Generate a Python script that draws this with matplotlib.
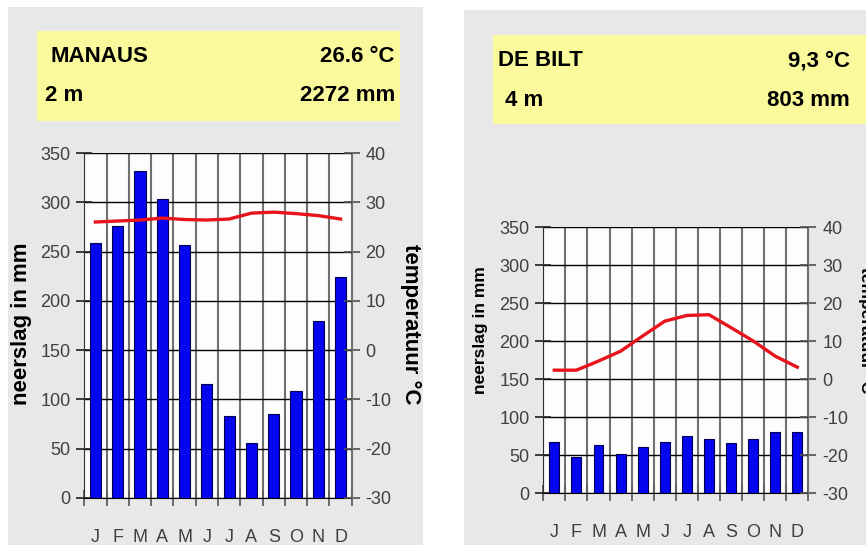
import matplotlib.pyplot as plt
from matplotlib.patches import Rectangle

# climate data
months = ["J", "F", "M", "A", "M", "J", "J", "A", "S", "O", "N", "D"]

manaus_rain = [259, 276, 332, 303, 257, 116, 83, 56, 85, 109, 180, 224]
manaus_temp = [26.0, 26.2, 26.4, 26.8, 26.5, 26.4, 26.6, 27.8, 28.0, 27.7, 27.3, 26.6]
manaus_info = ["MANAUS", "26.6 °C", "2 m", "2272 mm"]

debilt_rain = [67, 48, 64, 52, 61, 68, 76, 71, 66, 71, 81, 81]
debilt_temp = [2.4, 2.4, 4.8, 7.4, 11.4, 15.3, 16.8, 17.0, 13.6, 10.1, 6.1, 3.2]
debilt_info = ["DE BILT", "9,3 °C", "4 m", "803 mm"]

rain_ticks = [0, 50, 100, 150, 200, 250, 300, 350]
temp_ticks = [-30, -20, -10, 0, 10, 20, 30, 40]

W, H = 866, 545
NARROW = ["Liberation Sans Narrow", "Liberation Sans", "DejaVu Sans"]
PLAIN = ["Liberation Sans", "DejaVu Sans"]

plt.rcParams["axes.unicode_minus"] = False  # plain hyphen like "-10"

fig = plt.figure(figsize=(W / 100, H / 100), dpi=100)
fig.patch.set_facecolor("white")


def box(x0, y0, x1, y1, color):
    # rectangle given in pixel coords (top-left origin), behind the axes
    fig.patches.append(Rectangle((x0 / W, 1 - y1 / H), (x1 - x0) / W, (y1 - y0) / H,
                                 transform=fig.transFigure, facecolor=color,
                                 edgecolor="none", zorder=-5))


def ftext(x, y, s, **kw):
    fig.text(x / W, 1 - y / H, s, **kw)


def climate(rect, rain, temp, info, hdr, bar_w, lab_l, lab_r, lab_size, mpad):
    x0, y0, x1, y1 = rect
    ax = fig.add_axes([x0 / W, 1 - y1 / H, (x1 - x0) / W, (y1 - y0) / H])
    ax.set_facecolor("#fdfdfd")
    pos = [i + 0.5 for i in range(12)]
    ax.bar(pos, rain, width=bar_w, color="#0505f0", edgecolor="#000050",
           linewidth=0.8, zorder=3)
    ax.set_xlim(0, 12)
    ax.set_ylim(0, 350)
    ax.set_yticks(rain_ticks)
    ax.set_xticks(range(13))
    ax.set_xticklabels([])
    ax.set_xticks(pos, minor=True)
    ax.set_xticklabels(months, minor=True, fontsize=13, family=NARROW, color="#404040")
    ax.tick_params(axis="x", which="minor", length=0, pad=mpad)
    ax.tick_params(axis="x", which="major", direction="inout", length=12,
                   color="#606060", width=1.3)
    ax.tick_params(axis="y", direction="inout", length=12, color="#202020",
                   width=1.2, labelsize=13, labelcolor="#404040", pad=4)
    for lb in ax.get_yticklabels():
        lb.set_family(NARROW)
    ax.grid(axis="y", color="black", linewidth=1.0, zorder=1)
    ax.grid(axis="x", color="#707070", linewidth=1.5, zorder=1)
    ax.set_axisbelow(True)
    ax.spines["top"].set_visible(False)
    ax.spines["left"].set_color("#303030")
    ax.spines["right"].set_color("#707070")
    ax.spines["bottom"].set_color("black")

    ax2 = ax.twinx()
    ax2.plot(pos, temp, color="#e8141b", linewidth=2.4, zorder=4)
    ax2.set_ylim(-30, 40)
    ax2.set_yticks(temp_ticks)
    ax2.tick_params(axis="y", direction="inout", length=12, color="#505050",
                    width=1.2, labelsize=13, labelcolor="#404040", pad=4)
    for lb in ax2.get_yticklabels():
        lb.set_family(NARROW)
    for side in ["top", "left", "bottom"]:
        ax2.spines[side].set_visible(False)
    ax2.spines["right"].set_color("#707070")

    # header box texts
    hx0, hy1, hx2, hy2, hxr = hdr
    ftext(hx0, hy1, info[0], fontsize=16, fontweight="bold", family=NARROW, va="center")
    ftext(hxr, hy1, info[1], fontsize=16, fontweight="bold", family=NARROW,
          va="center", ha="right")
    ftext(hx2, hy2, info[2], fontsize=16, fontweight="bold", family=NARROW, va="center")
    ftext(hxr, hy2, info[3], fontsize=16, fontweight="bold", family=NARROW,
          va="center", ha="right")

    # axis titles
    ftext(lab_l[0], lab_l[1], "neerslag in mm", rotation=90, fontsize=lab_size,
          fontweight="bold", family=PLAIN, ha="center", va="center")
    ftext(lab_r[0], lab_r[1], "temperatuur °C", rotation=270, fontsize=lab_size,
          fontweight="bold", family=PLAIN, ha="center", va="center")


# grey panels and yellow header boxes
box(8, 7, 423, 545, "#e8e8e8")
box(464, 10, 866, 545, "#e8e8e8")
box(37, 31, 400, 121, "#fafa9c")
box(493, 35, 866, 124, "#fafa9c")

climate((84.3, 153, 351.7, 498), manaus_rain, manaus_temp, manaus_info,
        (50, 57, 45, 95, 395), 0.5, (22, 324), (411, 324), 16, 22)
climate((543.3, 227.3, 808.3, 493.3), debilt_rain, debilt_temp, debilt_info,
        (498, 61, 505, 100, 850), 0.45, (481, 330), (866, 330), 12.5, 22)

fig.savefig("out.png", dpi=100)
